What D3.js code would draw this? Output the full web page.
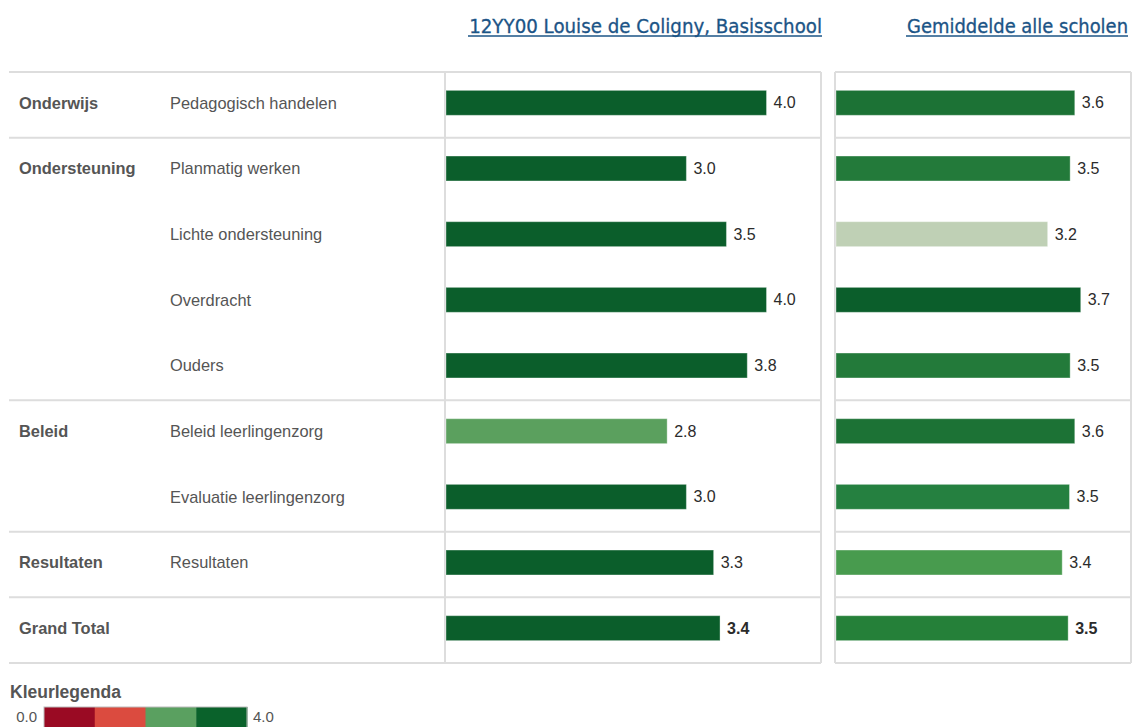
<!DOCTYPE html>
<html>
<head>
<meta charset="utf-8">
<script src="https://cdn.jsdelivr.net/npm/d3@7"></script>
<style>
  body { margin: 0; background: #fff; }
  svg { display: block; font-family: "Liberation Sans", Arial, sans-serif; }
</style>
</head>
<body>
<svg id="chart" width="1134" height="727"></svg>
<script>
const groups = ["Onderwijs", "Ondersteuning", "", "", "", "Beleid", "", "Resultaten", "Grand Total"];
const items = [
  "Pedagogisch handelen",
  "Planmatig werken",
  "Lichte ondersteuning",
  "Overdracht",
  "Ouders",
  "Beleid leerlingenzorg",
  "Evaluatie leerlingenzorg",
  "Resultaten",
  ""
];
const schoolValues = [4.0, 3.0, 3.5, 4.0, 3.76, 2.76, 3.0, 3.34, 3.42];
const averageValues = [3.61, 3.54, 3.2, 3.7, 3.54, 3.61, 3.53, 3.42, 3.51];
// colour code per bar as shown in the picture
const schoolFill = ["#0b5e2b", "#0b5e2b", "#0b5e2b", "#0b5e2b", "#0b5e2b", "#5ba05e", "#0b5e2b", "#0b5e2b", "#0b5e2b"];
const averageFill = ["#1c7235", "#237a3a", "#bfd0b5", "#0b5e2b", "#237a3a", "#1c7235", "#258040", "#489b4e", "#258039"];
const groupEnds = [0, 4, 6, 7]; // rows after which a separator is drawn
const legendColors = ["#9a0a23", "#db4b3f", "#5aa060", "#0a622b"];
const titles = ["12YY00 Louise de Coligny, Basisschool", "Gemiddelde alle scholen"];

const svg = d3.select("#chart");
const TOP = 72, BOTTOM = 663;
const LEFT = { x0: 446, x1: 821, max: 4.68 };
const RIGHT = { x0: 836, x1: 1131, max: 4.46 };

const y = d3.scaleBand()
  .domain(d3.range(items.length))
  .range([TOP, BOTTOM])
  .paddingInner(0.62)
  .paddingOuter(0.31);

const fmt = d3.format(".1f");
const lineColor = "#dddddd";

// titles, sized to the width they take in the reference
const titleSpecs = [
  { text: titles[0], right: 822, width: 353 },
  { text: titles[1], right: 1128, width: 221 }
];
titleSpecs.forEach((t) => {
  const txt = svg.append("text")
    .attr("x", t.right)
    .attr("y", 33)
    .attr("text-anchor", "end")
    .style("font-family", "'DejaVu Sans Condensed', 'DejaVu Sans', sans-serif")
    .style("font-size", "19px")
    .style("fill", "#1b5486")
    .style("stroke", "#1b5486")
    .style("stroke-width", 0.3)
    .text(t.text);
  const w = txt.node().getComputedTextLength();
  txt.style("font-size", (19 * t.width / w).toFixed(2) + "px");
  svg.append("line")
    .attr("x1", t.right - t.width - 1)
    .attr("x2", t.right)
    .attr("y1", 36)
    .attr("y2", 36)
    .attr("stroke", "#1b5486")
    .attr("stroke-width", 1.5);
});

// table lines
const sepY = [TOP].concat(groupEnds.map((i) => TOP + y.step() * (i + 1))).concat([BOTTOM]);
const grid = svg.append("g").attr("class", "grid");
sepY.forEach((yy) => {
  grid.append("line").attr("x1", 9).attr("x2", LEFT.x1).attr("y1", yy).attr("y2", yy);
  grid.append("line").attr("x1", RIGHT.x0 - 1).attr("x2", RIGHT.x1).attr("y1", yy).attr("y2", yy);
});
[LEFT.x0 - 1, LEFT.x1, RIGHT.x0 - 1, RIGHT.x1].forEach((xx) => {
  grid.append("line").attr("x1", xx).attr("x2", xx).attr("y1", TOP).attr("y2", BOTTOM);
});
grid.selectAll("line").attr("stroke", lineColor).attr("stroke-width", 2);

// row labels
const labels = svg.append("g").attr("class", "labels");
labels.selectAll("text.group")
  .data(groups)
  .join("text")
  .attr("class", "group")
  .attr("x", 19)
  .attr("y", (d, i) => y(i) + y.bandwidth() / 2 - 2)
  .attr("dy", "0.35em")
  .style("font-size", "16.4px")
  .style("font-weight", "bold")
  .style("fill", "#555")
  .text((d) => d);

labels.selectAll("text.item")
  .data(items)
  .join("text")
  .attr("class", "item")
  .attr("x", 170)
  .attr("y", (d, i) => y(i) + y.bandwidth() / 2 - 2)
  .attr("dy", "0.35em")
  .style("font-size", "16.4px")
  .style("fill", "#555")
  .text((d) => d);

// bar panels
function drawPanel(panel, values, fills) {
  const x = d3.scaleLinear().domain([0, panel.max]).range([panel.x0, panel.x1]);
  const g = svg.append("g");
  g.selectAll("rect")
    .data(values)
    .join("rect")
    .attr("x", x(0))
    .attr("y", (d, i) => y(i) - 2)
    .attr("width", (d) => x(d) - x(0))
    .attr("height", y.bandwidth())
    .attr("fill", (d, i) => fills[i])
    .attr("stroke", "rgba(255,255,255,0.35)")
    .attr("stroke-width", 1);
  g.selectAll("text")
    .data(values)
    .join("text")
    .attr("x", (d) => x(d) + 7)
    .attr("y", (d, i) => y(i) + y.bandwidth() / 2 - 2)
    .attr("dy", "0.35em")
    .style("font-size", "16px")
    .style("fill", "#2b2b2b")
    .style("font-weight", (d, i) => (i === values.length - 1 ? "bold" : "normal"))
    .text((d) => fmt(d));
}
drawPanel(LEFT, schoolValues, schoolFill);
drawPanel(RIGHT, averageValues, averageFill);

// colour legend
const legend = svg.append("g").attr("class", "legend");
legend.append("text")
  .attr("x", 10)
  .attr("y", 698)
  .style("font-size", "17.5px")
  .style("font-weight", "bold")
  .style("fill", "#555")
  .text("Kleurlegenda");

const lx = d3.scaleBand().domain(d3.range(legendColors.length)).range([44, 247]);
legend.selectAll("rect")
  .data(legendColors)
  .join("rect")
  .attr("x", (d, i) => lx(i))
  .attr("y", 707)
  .attr("width", lx.bandwidth() + 0.5)
  .attr("height", 22)
  .attr("fill", (d) => d);
legend.append("rect")
  .attr("x", 44)
  .attr("y", 707)
  .attr("width", 203)
  .attr("height", 22)
  .attr("fill", "none")
  .attr("stroke", "#bbb")
  .attr("stroke-width", 1);
legend.append("text")
  .attr("x", 37)
  .attr("y", 717)
  .attr("dy", "0.35em")
  .attr("text-anchor", "end")
  .style("font-size", "15px")
  .style("fill", "#555")
  .text(fmt(0));
legend.append("text")
  .attr("x", 253)
  .attr("y", 717)
  .attr("dy", "0.35em")
  .style("font-size", "15px")
  .style("fill", "#555")
  .text(fmt(4));
</script>
</body>
</html>
